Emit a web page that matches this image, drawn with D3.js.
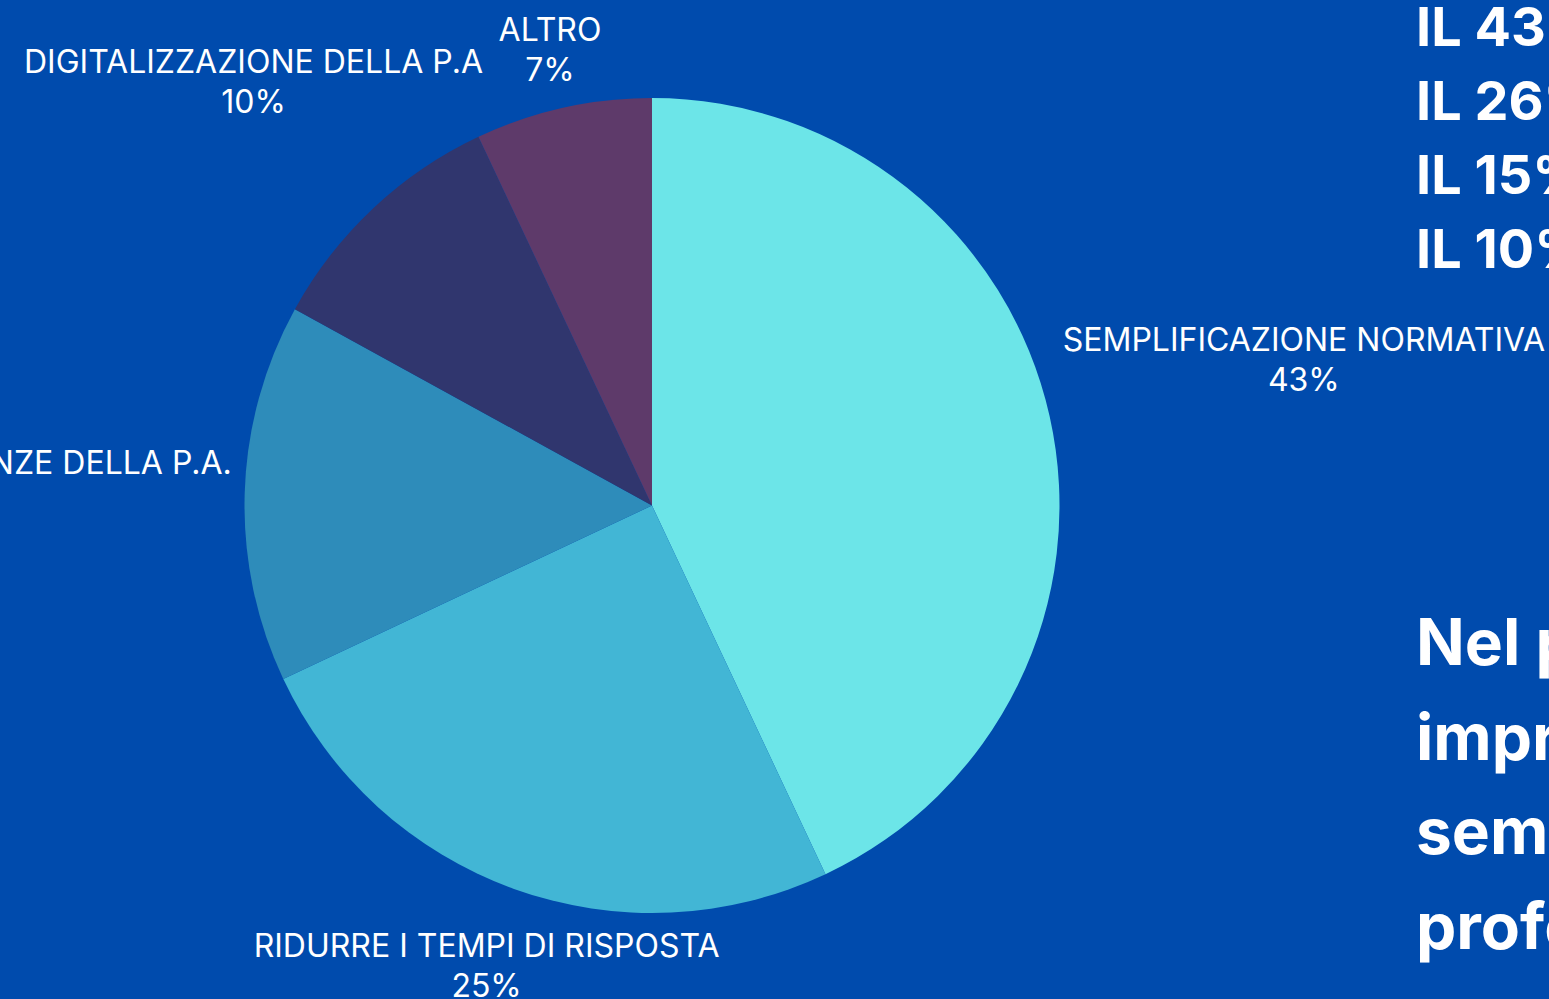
<!DOCTYPE html>
<html><head><meta charset="utf-8">
<script src="https://cdn.jsdelivr.net/npm/d3@7"></script>
<style>
html,body{margin:0;padding:0;background:#004BAD;overflow:hidden;}
svg{display:block;}
</style></head>
<body>
<svg id="c" width="1549" height="999"></svg>
<script>
const categories = ["SEMPLIFICAZIONE NORMATIVA","RIDURRE I TEMPI DI RISPOSTA","CARENZA DI COMPETENZE DELLA P.A.","DIGITALIZZAZIONE DELLA P.A","ALTRO"];
const values = [43, 25, 15, 10, 7];
const colors = ["#6CE5E8","#42B6D5","#2E8CBA","#30366E","#5E3A6A"];
const sideLines = ["IL 43% delle imprese","IL 26% delle imprese","IL 15% delle imprese","IL 10% delle imprese"];
const noteLines = ["Nel percorso delle","imprese verso la","semplificazione,","professionisti"];

const W = 1549, H = 999;
const svg = d3.select("#c");
svg.append("rect").attr("width",W).attr("height",H).attr("fill","#004BAD");

const cx = 652, cy = 505.5, R = 407.5;
const pie = d3.pie().sort(null).value(d=>d)(values);
const arc = d3.arc().innerRadius(0).outerRadius(R);
const g = svg.append("g").attr("transform",`translate(${cx},${cy})`);
g.selectAll("path").data(pie).join("path").attr("d",arc).attr("fill",(d,i)=>colors[i]);

// labels along mid-angle ray, clamped inside the view
const fs = 32, lh = 40, labelR = 720;
const lg = svg.append("g").attr("font-family","Inter, sans-serif").attr("font-size",fs).attr("fill","#fff").attr("text-anchor","middle");
pie.forEach((d,i)=>{
  const a = (d.startAngle+d.endAngle)/2;
  const sx = Math.sin(a), sy = -Math.cos(a);
  const t = lg.append("text");
  t.append("tspan").attr("x",0).attr("dy",0).text(categories[i]);
  t.append("tspan").attr("x",0).attr("dy",lh).text(values[i]+"%");
  const w = t.node().getBBox().width;
  let r = labelR;
  const yMin = 49, yMax = 965, xMin = 24, xMax = 1545;
  if (cy + sy*r < yMin) r = (yMin-cy)/sy;
  if (cy + sy*r > yMax) r = (yMax-cy)/sy;
  if (sx>0 && cx + sx*r + w/2 > xMax) { const r2 = (xMax - w/2 - cx)/sx; if (r2 > R+20) r = Math.min(r, r2); }
  if (sx<0 && cx + sx*r - w/2 < xMin) { const r2 = (xMin + w/2 - cx)/sx; if (r2 > R+20) r = Math.min(r, r2); }
  const x = cx + sx*r, y = cy + sy*r;
  t.attr("transform",`translate(${x},${y - lh/2 + fs*0.36})`);
});

// side texts
const st = svg.append("g").attr("font-family","Inter, sans-serif").attr("font-weight",700).attr("fill","#fff");
st.selectAll("text.a").data(sideLines).join("text").attr("class","a")
  .attr("x",1416).attr("y",(d,i)=>46+i*74).attr("font-size",54).text(d=>d);
st.selectAll("text.b").data(noteLines).join("text").attr("class","b")
  .attr("x",1416).attr("y",(d,i)=>665+i*94.5).attr("font-size",64).text(d=>d);
</script>
</body></html>
